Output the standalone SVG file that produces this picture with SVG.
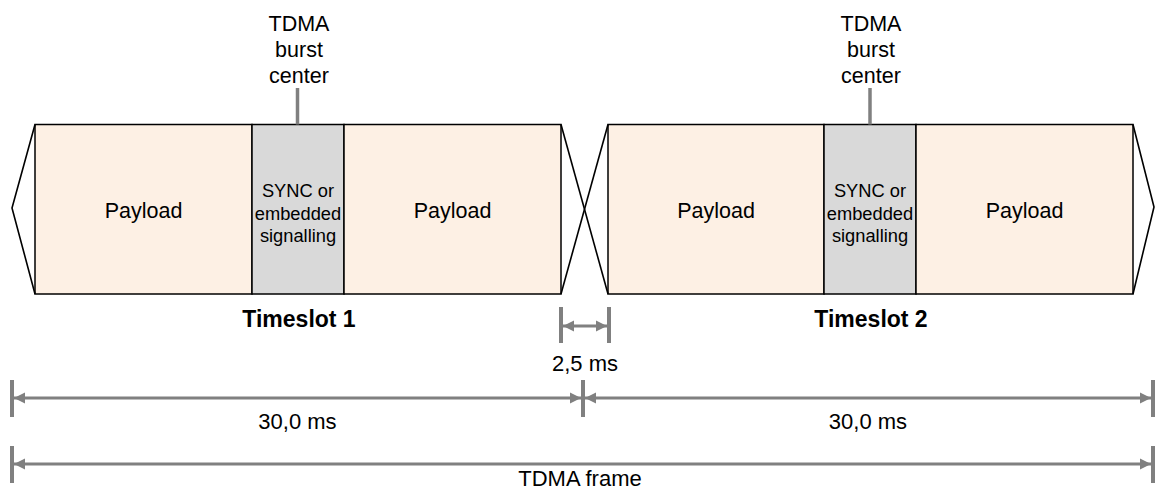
<svg xmlns="http://www.w3.org/2000/svg" width="1155" height="491" viewBox="0 0 1155 491">
<style>
text{font-family:"Liberation Sans",Arial,sans-serif;fill:#000;text-anchor:middle}
.lbl{font-size:21.5px}
.sync{font-size:18.3px}
.ts{font-size:23px;font-weight:bold}
.dim{font-size:22px}
.pay{fill:#FDF0E4;stroke:#000;stroke-width:1.5}
.syn{fill:#D9D9D9;stroke:#000;stroke-width:1.5}
.edge{fill:none;stroke:#000;stroke-width:1.6}
.tick{stroke:#808080;stroke-width:4}
.arr{stroke:#808080;stroke-width:3;fill:none;marker-start:url(#ah);marker-end:url(#ah)}
</style>
<defs>
<marker id="ah" markerUnits="userSpaceOnUse" markerWidth="12" markerHeight="12" refX="11" refY="6" orient="auto-start-reverse">
<path d="M0,0.5 L11,6 L0,11.5 Z" fill="#808080"/>
</marker>
</defs>

<g id="timeslot1">
<rect class="pay" x="35" y="124.5" width="217" height="169.5"/>
<rect class="syn" x="252" y="124.5" width="92" height="169.5"/>
<rect class="pay" x="344" y="124.5" width="217" height="169.5"/>
<text class="lbl" x="143.5" y="217.5">Payload</text>
<text class="sync" x="298" y="197">SYNC or</text>
<text class="sync" x="298" y="219.5">embedded</text>
<text class="sync" x="298" y="242">signalling</text>
<text class="lbl" x="452.5" y="217.5">Payload</text>
<text class="ts" x="299" y="326.5">Timeslot 1</text>
</g>

<g id="burst1">
<text class="lbl" x="299" y="31">TDMA</text>
<text class="lbl" x="299" y="57">burst</text>
<text class="lbl" x="299" y="83">center</text>
<line class="tick" x1="297.5" y1="88" x2="297.5" y2="124.5" style="stroke-width:3.5"/>
</g>

<g id="timeslot2">
<rect class="pay" x="608" y="124.5" width="216" height="169.5"/>
<rect class="syn" x="824" y="124.5" width="92" height="169.5"/>
<rect class="pay" x="916" y="124.5" width="217" height="169.5"/>
<text class="lbl" x="716" y="217.5">Payload</text>
<text class="sync" x="870" y="197">SYNC or</text>
<text class="sync" x="870" y="219.5">embedded</text>
<text class="sync" x="870" y="242">signalling</text>
<text class="lbl" x="1024.5" y="217.5">Payload</text>
<text class="ts" x="871" y="326.5">Timeslot 2</text>
</g>

<g id="burst2">
<text class="lbl" x="871" y="31">TDMA</text>
<text class="lbl" x="871" y="57">burst</text>
<text class="lbl" x="871" y="83">center</text>
<line class="tick" x1="870" y1="88" x2="870" y2="124.5" style="stroke-width:3.5"/>
</g>

<g id="edges">
<polyline class="edge" points="35,124.5 12,208 35,294"/>
<line class="edge" x1="561" y1="124.5" x2="608" y2="294"/>
<line class="edge" x1="608" y1="124.5" x2="561" y2="294"/>
<polyline class="edge" points="1133,124.5 1154,207 1133,294"/>
</g>

<g id="connectors">
<line class="tick" x1="561" y1="307" x2="561" y2="343"/>
<line class="tick" x1="609" y1="307" x2="609" y2="343"/>
<line class="arr" x1="563" y1="326" x2="607" y2="326"/>
<text class="dim" x="585" y="371">2,5 ms</text>

<line class="tick" x1="12" y1="380" x2="12" y2="417"/>
<line class="tick" x1="583" y1="380" x2="583" y2="417"/>
<line class="tick" x1="1153" y1="380" x2="1153" y2="417"/>
<line class="arr" x1="14" y1="398" x2="581" y2="398"/>
<line class="arr" x1="585" y1="398" x2="1151" y2="398"/>
<text class="dim" x="297.5" y="429">30,0 ms</text>
<text class="dim" x="868" y="429">30,0 ms</text>

<line class="tick" x1="12" y1="446" x2="12" y2="483"/>
<line class="tick" x1="1153" y1="446" x2="1153" y2="483"/>
<line class="arr" x1="14" y1="464" x2="1151" y2="464"/>
<text class="dim" x="580" y="486">TDMA frame</text>
</g>
</svg>
